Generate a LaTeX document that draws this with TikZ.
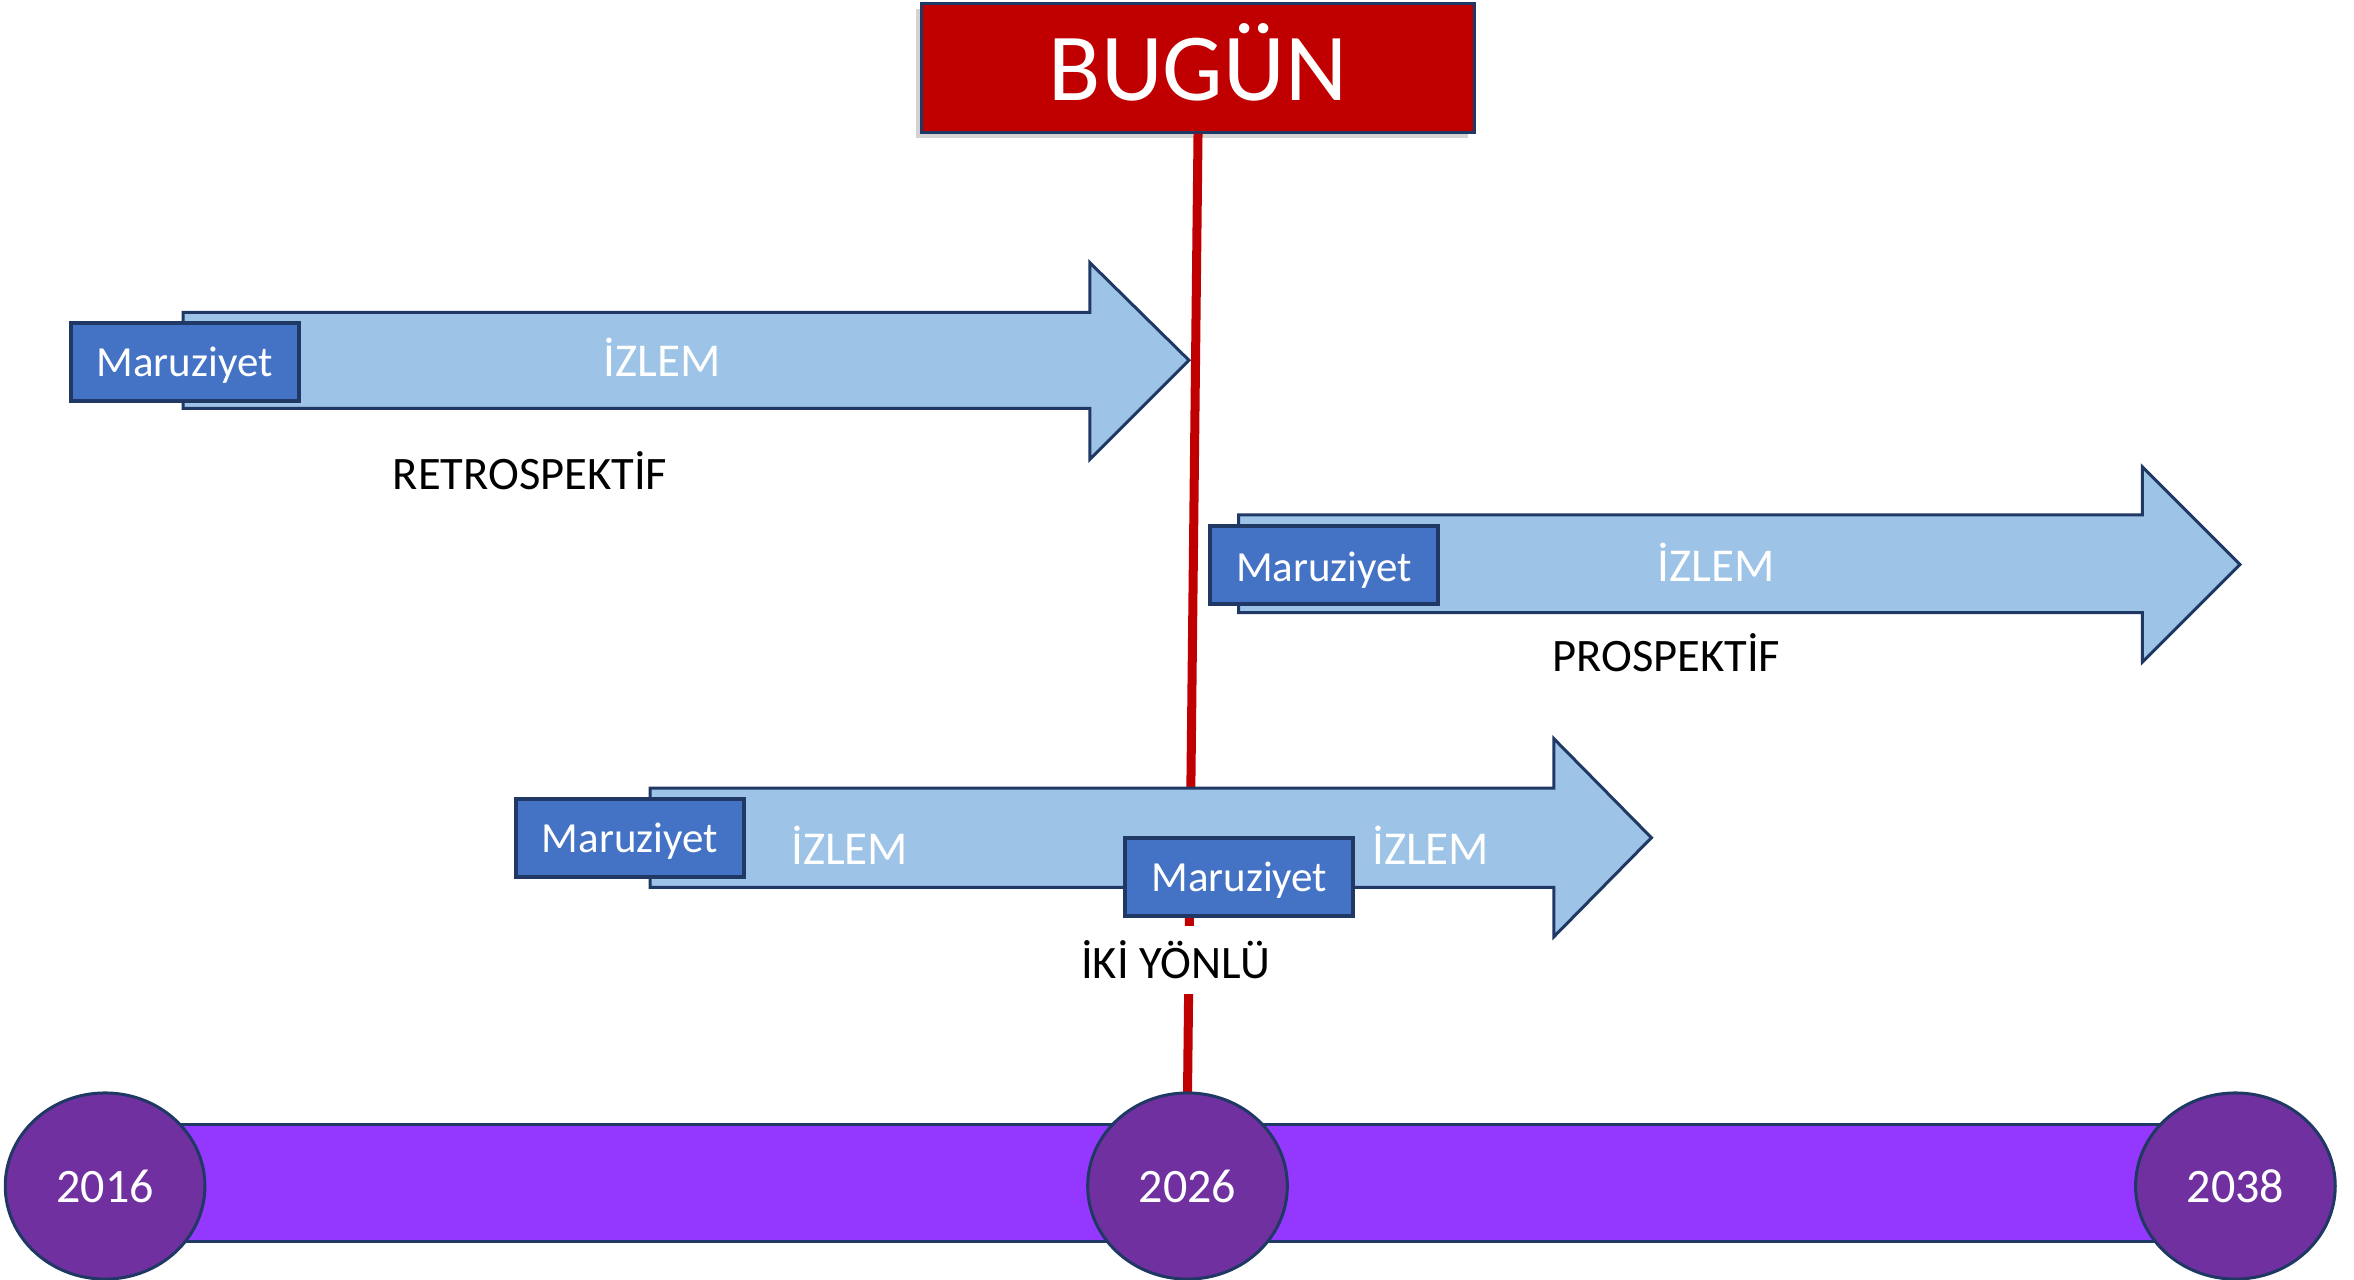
\documentclass[tikz,border=0pt]{standalone}
\usepackage{fontspec}
\setmainfont{Carlito}
\usetikzlibrary{shadows,shapes.geometric}
\definecolor{bred}{HTML}{C00000}
\definecolor{navy}{HTML}{1F3864}
\definecolor{arrowfill}{HTML}{9DC3E6}
\definecolor{mboxfill}{HTML}{4472C4}
\definecolor{barfill}{HTML}{9538FF}
\definecolor{yearfill}{HTML}{7030A0}
\begin{document}
\begin{tikzpicture}[x=0.5pt,y=-0.5pt,
  arrowshape/.style={fill=arrowfill,draw=navy,line width=1pt,line join=miter},
  mbox/.style={rectangle,fill=mboxfill,draw=navy,line width=1.3pt,minimum width=76pt,minimum height=26pt,inner sep=0pt},
  mtext/.style={text=white,font=\fontsize{14.3pt}{16pt}\selectfont,inner sep=0pt,anchor=base},
  izlem/.style={text=white,font=\fontsize{15.7pt}{18pt}\selectfont,inner sep=0pt,anchor=base},
  lbl/.style={text=black,font=\fontsize{15.5pt}{18pt}\selectfont,inner sep=0pt,anchor=base},
  year/.style={ellipse,fill=yearfill,draw=navy,line width=1pt,minimum width=66.5pt,minimum height=62pt,inner sep=0pt},
  ytext/.style={text=white,font=\fontsize{16pt}{18pt}\selectfont,inner sep=0pt,anchor=base}]
\useasboundingbox (0,0) rectangle (1568,852);
% BUGÜN box
\node[rectangle,fill=bred,draw=navy,line width=1pt,minimum width=184pt,minimum height=43pt,inner sep=0pt,
  drop shadow={shadow xshift=-2pt,shadow yshift=-2pt,opacity=0.35}] (bugun) at (798,45) {};
\node[text=white,font=\fontsize{32pt}{36pt}\selectfont,inner sep=0pt,anchor=base] (bugunt) at (798,67) {BUGÜN};
% end of the red line at the top of the 2026 ellipse
\coordinate (y2026top) at (791,728);
% red line
\draw[bred,line width=3pt] (bugun.south) -- (y2026top);
% retrospective arrow
\draw[arrowshape] (122,208) -- (726,208) -- (726,175) -- (792,240) -- (726,306) -- (726,272) -- (122,272) -- cycle;
\node[mbox] (m1) at (123,241) {};
\node[mtext] (m1t) at (123,251) {Maruziyet};
\node[izlem] (i1) at (441,251) {İZLEM};
\node[lbl] (retro) at (353,326) {RETROSPEKTİF};
% prospective arrow
\draw[arrowshape] (825,343) -- (1427,343) -- (1427,311) -- (1492,376) -- (1427,441) -- (1427,408) -- (825,408) -- cycle;
\node[mbox] (m2) at (882,376.5) {};
\node[mtext] (m2t) at (882,387) {Maruziyet};
\node[izlem] (i2) at (1143,387) {İZLEM};
\node[lbl] (prosp) at (1110,447) {PROSPEKTİF};
% bidirectional arrow
\draw[arrowshape] (433,525) -- (1035,525) -- (1035,492) -- (1100,558) -- (1035,624) -- (1035,591) -- (433,591) -- cycle;
\node[mbox] (m3) at (419.5,558) {};
\node[mtext] (m3t) at (419.5,568) {Maruziyet};
\node[izlem] (i3) at (566,576) {İZLEM};
\node[mbox] (m4) at (825.5,584) {};
\node[mtext] (m4t) at (825.5,594) {Maruziyet};
\node[izlem] (i4) at (953,576) {İZLEM};
\node[lbl,fill=white,inner xsep=2pt,inner ysep=5pt] (iki) at (783,652) {İKİ YÖNLÜ};
% timeline
\draw[fill=barfill,draw=navy,line width=1pt] (70,749) rectangle (1489,827);
\node[year] (y2016) at (70,790) {};
\node[year] (y2026) at (791,790) {};
\node[year] (y2038) at (1489,790) {};
\node[ytext] at (70,801) {2016};
\node[ytext] at (791,801) {2026};
\node[ytext] at (1489,801) {2038};
\end{tikzpicture}
\end{document}
